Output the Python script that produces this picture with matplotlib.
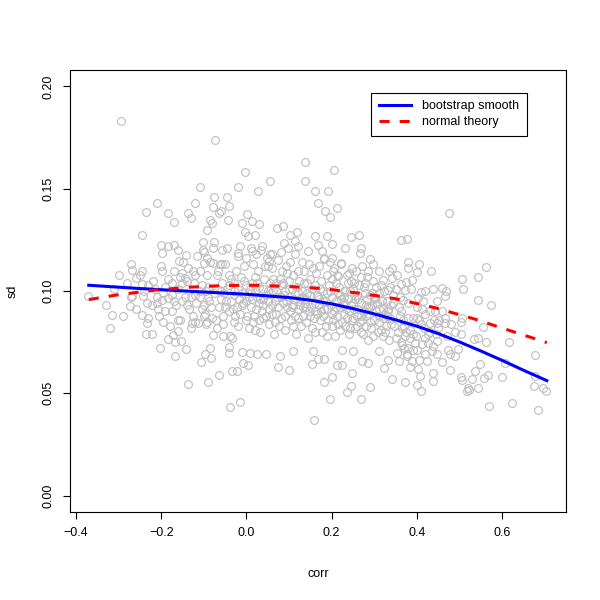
import numpy as np
import matplotlib
matplotlib.use("Agg")
import matplotlib.pyplot as plt

plt.rcParams['font.family'] = ['Liberation Sans', 'DejaVu Sans']

# scatter of (corr, sd)
outer_pts = [
    (-0.295, 0.183), (-0.073, 0.174), (-0.110, 0.151), (-0.075, 0.146), (-0.045, 0.146),
    (-0.003, 0.158), (-0.020, 0.151), (0.028, 0.149), (0.056, 0.154), (0.138, 0.163),
    (0.138, 0.154), (0.206, 0.159), (0.161, 0.149), (0.192, 0.149), (0.461, 0.194),
    (0.476, 0.138), (0.362, 0.125), (0.376, 0.1255), (0.380, 0.114), (0.404, 0.113),
    (0.379, 0.111), (0.400, 0.1095), (0.433, 0.110), (0.562, 0.1115), (0.544, 0.107),
    (0.506, 0.106), (0.509, 0.101), (0.354, 0.108), (0.389, 0.1056), (0.363, 0.1035),
    (0.375, 0.1045), (0.386, 0.101), (0.372, 0.1005), (0.410, 0.0996), (0.419, 0.1002),
    (0.438, 0.101), (0.458, 0.1014), (0.468, 0.0998), (0.466, 0.0976), (0.368, 0.0955),
    (0.402, 0.0967), (0.415, 0.095), (0.447, 0.095), (0.544, 0.0955), (0.573, 0.0933),
    (0.412, 0.091), (0.443, 0.090), (0.363, 0.090), (0.379, 0.087), (0.400, 0.087),
    (0.466, 0.087), (0.505, 0.087),
]

right_pts = [
    (0.365, 0.082), (0.372, 0.078), (0.384, 0.077), (0.396, 0.0747), (0.365, 0.0738),
    (0.380, 0.072), (0.400, 0.0714), (0.353, 0.0698), (0.376, 0.069), (0.404, 0.0665),
    (0.357, 0.066), (0.384, 0.063), (0.427, 0.0747), (0.447, 0.0755), (0.435, 0.0706),
    (0.447, 0.069), (0.423, 0.066), (0.458, 0.0652), (0.474, 0.0714), (0.478, 0.069),
    (0.490, 0.068), (0.497, 0.0717), (0.478, 0.0613), (0.439, 0.060), (0.408, 0.0587),
    (0.372, 0.0554), (0.400, 0.0543), (0.410, 0.051), (0.437, 0.056), (0.503, 0.058),
    (0.507, 0.0567), (0.529, 0.057), (0.537, 0.0608), (0.548, 0.0645), (0.519, 0.0527),
    (0.517, 0.051), (0.523, 0.0515), (0.544, 0.0527), (0.558, 0.0575), (0.568, 0.059),
    (0.599, 0.0578), (0.570, 0.044), (0.624, 0.0453), (0.684, 0.042), (0.674, 0.0535),
    (0.697, 0.0527), (0.703, 0.051), (0.677, 0.0685), (0.617, 0.075), (0.562, 0.075),
    (0.544, 0.077), (0.535, 0.0766), (0.504, 0.079), (0.466, 0.0845), (0.447, 0.0845),
    (0.432, 0.0845), (0.556, 0.0825), (0.504, 0.085), (0.607, 0.065), (0.677, 0.0583),
    (0.36, 0.088), (0.37, 0.083), (0.38, 0.094), (0.39, 0.079), (0.40, 0.092),
    (0.41, 0.084), (0.42, 0.089), (0.43, 0.080), (0.44, 0.086), (0.45, 0.082),
    (0.46, 0.090), (0.47, 0.078), (0.48, 0.084), (0.49, 0.080), (0.35, 0.077),
    (0.36, 0.097), (0.39, 0.087), (0.42, 0.077), (0.35, 0.101), (0.37, 0.072),
    (0.355, 0.080), (0.362, 0.075), (0.368, 0.086), (0.378, 0.068), (0.385, 0.081),
    (0.392, 0.071), (0.398, 0.078), (0.405, 0.086), (0.412, 0.074), (0.418, 0.069),
    (0.425, 0.079), (0.432, 0.090), (0.438, 0.073), (0.445, 0.079), (0.452, 0.086),
    (0.358, 0.092), (0.374, 0.080), (0.388, 0.066), (0.402, 0.062), (0.416, 0.082),
]

upper_pts = [
    (0.167, 0.143), (0.184, 0.139), (0.196, 0.136), (0.212, 0.1407), (0.001, 0.1374),
    (-0.011, 0.1333), (0.012, 0.134), (0.030, 0.1325), (-0.003, 0.129), (0.004, 0.127),
    (0.020, 0.1276), (0.071, 0.131), (0.087, 0.1317), (0.102, 0.1276), (0.118, 0.129),
    (0.113, 0.1245), (0.122, 0.122), (0.161, 0.127), (0.188, 0.127), (0.202, 0.123),
    (0.231, 0.121), (0.246, 0.1265), (0.264, 0.1276), (0.269, 0.121), (0.267, 0.1187),
    (0.178, 0.1195), (0.167, 0.1227), (0.145, 0.1195), (0.089, 0.1236), (0.059, 0.118),
    (0.052, 0.1146), (0.036, 0.122), (-0.015, 0.122), (-0.019, 0.1187), (0.012, 0.1197),
    (0.222, 0.1138), (0.247, 0.111), (0.271, 0.112), (0.290, 0.1154), (0.310, 0.1097),
    (0.335, 0.110), (0.341, 0.111), (0.286, 0.1097), (0.298, 0.113), (0.200, 0.1162),
    (0.181, 0.1154), (0.204, 0.1097), (0.216, 0.1073), (0.321, 0.1056), (0.341, 0.1064),
    (0.333, 0.1007), (0.345, 0.094), (0.318, 0.0958), (0.294, 0.099), (0.278, 0.104),
    (0.239, 0.104), (0.333, 0.090),
]

left_pts = [
    (-0.211, 0.1428), (-0.236, 0.1387), (-0.121, 0.1428), (-0.078, 0.1412), (-0.060, 0.139),
    (-0.064, 0.1382), (-0.041, 0.1415), (-0.183, 0.1379), (-0.169, 0.1338), (-0.136, 0.1379),
    (-0.131, 0.1355), (-0.085, 0.1346), (-0.080, 0.133), (-0.093, 0.130), (-0.044, 0.1346),
    (-0.246, 0.1276), (-0.200, 0.1227), (-0.197, 0.1187), (-0.183, 0.122), (-0.169, 0.1227),
    (-0.160, 0.120), (-0.142, 0.1174), (-0.101, 0.1239), (-0.103, 0.120), (-0.075, 0.1239),
    (-0.058, 0.120), (-0.093, 0.1162), (-0.099, 0.1138), (-0.078, 0.1138), (-0.058, 0.113),
    (-0.158, 0.1146), (-0.271, 0.113), (-0.268, 0.1105), (-0.246, 0.110), (-0.199, 0.1097),
    (-0.258, 0.1064), (-0.246, 0.1032), (-0.175, 0.1037), (-0.144, 0.1064), (-0.125, 0.1097),
    (-0.152, 0.1086), (-0.371, 0.0975), (-0.269, 0.0975), (-0.242, 0.0975), (-0.199, 0.0958),
    (-0.183, 0.0967), (-0.234, 0.0942), (-0.222, 0.0934), (-0.273, 0.0926), (-0.316, 0.0885),
    (-0.246, 0.0885), (-0.207, 0.091), (-0.175, 0.090),
    (-0.33, 0.093), (-0.31, 0.101), (-0.29, 0.088), (-0.28, 0.104), (-0.27, 0.097),
    (-0.26, 0.091), (-0.25, 0.108), (-0.24, 0.100), (-0.23, 0.087), (-0.22, 0.105),
    (-0.21, 0.094), (-0.20, 0.112), (-0.195, 0.099), (-0.19, 0.090), (-0.185, 0.106),
    (-0.18, 0.083), (-0.175, 0.098), (-0.17, 0.110), (-0.165, 0.093), (-0.16, 0.086),
    (-0.155, 0.107), (-0.15, 0.095), (-0.148, 0.114), (-0.30, 0.108), (-0.32, 0.082),
    (-0.235, 0.079), (-0.215, 0.101), (-0.205, 0.088),
    (-0.14, 0.093), (-0.12, 0.085), (-0.11, 0.100), (-0.10, 0.088), (-0.13, 0.097),
    (-0.15, 0.104), (-0.19, 0.102), (-0.21, 0.097), (-0.23, 0.103), (-0.17, 0.095),
    (-0.12, 0.108), (-0.105, 0.091),
]

lower_pts = [
    (-0.234, 0.0845), (-0.195, 0.0848), (-0.221, 0.079), (-0.203, 0.0722), (-0.183, 0.0766),
    (-0.172, 0.0787), (-0.161, 0.0803), (-0.168, 0.075), (-0.154, 0.0755), (-0.142, 0.0717),
    (-0.168, 0.068), (-0.107, 0.0652), (-0.097, 0.0693), (-0.085, 0.0722), (-0.083, 0.0673),
    (-0.079, 0.0784), (-0.138, 0.0546), (-0.089, 0.0556), (-0.064, 0.0588), (-0.042, 0.0698),
    (-0.041, 0.0725), (-0.034, 0.0608), (-0.038, 0.0434), (-0.054, 0.078), (-0.033, 0.0771),
    (-0.128, 0.0845), (-0.114, 0.0845), (-0.093, 0.0848),
    (-0.015, 0.0458), (0.159, 0.0368), (0.183, 0.0556), (0.200, 0.0579), (0.195, 0.0474),
    (0.236, 0.0507), (0.245, 0.0535), (0.269, 0.0474), (0.289, 0.0532), (0.248, 0.060),
    (0.342, 0.0572), (0.073, 0.0628), (0.099, 0.0616), (0.153, 0.0644), (-0.023, 0.0608),
    (0.004, 0.064), (-0.007, 0.0649), (0.224, 0.0637), (0.212, 0.064), (0.272, 0.0657),
    (0.285, 0.0649), (0.324, 0.0624), (-0.011, 0.0703), (0.009, 0.0698), (0.024, 0.069),
    (0.045, 0.069), (0.079, 0.068), (0.110, 0.0706), (0.157, 0.0706), (0.181, 0.0668),
    (0.167, 0.0668), (0.224, 0.0714), (0.251, 0.0706), (0.310, 0.0706), (0.333, 0.0665),
]

core_pts = [
    (-0.14, 0.105), (-0.12, 0.098), (-0.11, 0.110), (-0.10, 0.093), (-0.09, 0.102),
    (-0.08, 0.087), (-0.07, 0.108), (-0.06, 0.096), (-0.05, 0.113), (-0.04, 0.090),
    (-0.03, 0.104), (-0.02, 0.083), (-0.01, 0.099), (0.00, 0.116), (0.01, 0.092),
    (0.02, 0.107), (0.03, 0.086), (0.04, 0.101), (0.05, 0.095), (0.06, 0.111),
    (0.07, 0.089), (0.08, 0.103), (0.09, 0.081), (0.10, 0.097), (0.11, 0.108),
    (0.12, 0.091), (0.13, 0.100), (0.14, 0.085), (0.15, 0.106), (0.16, 0.094),
    (0.17, 0.112), (0.18, 0.088), (0.19, 0.099), (0.20, 0.083), (0.21, 0.104),
    (0.22, 0.092), (0.23, 0.097), (0.24, 0.079), (0.25, 0.101), (0.26, 0.088),
    (0.27, 0.094), (0.28, 0.083), (0.29, 0.098), (0.30, 0.086), (0.31, 0.091),
    (0.32, 0.078), (0.33, 0.095), (0.34, 0.084),
    (-0.135, 0.091), (-0.115, 0.117), (-0.095, 0.084), (-0.075, 0.099), (-0.055, 0.088),
    (-0.045, 0.121), (-0.035, 0.095), (-0.025, 0.110), (-0.015, 0.089), (-0.005, 0.105),
    (0.005, 0.082), (0.015, 0.113), (0.025, 0.097), (0.035, 0.120), (0.045, 0.088),
    (0.055, 0.104), (0.065, 0.079), (0.075, 0.115), (0.085, 0.094), (0.095, 0.109),
    (0.105, 0.086), (0.115, 0.118), (0.125, 0.096), (0.135, 0.110), (0.145, 0.077),
    (0.155, 0.101), (0.165, 0.089), (0.175, 0.105), (0.185, 0.095), (0.195, 0.114),
    (0.205, 0.090), (0.215, 0.099), (0.225, 0.085), (0.235, 0.108), (0.245, 0.093),
    (0.255, 0.082), (0.265, 0.103), (0.275, 0.090), (0.285, 0.076), (0.295, 0.093),
    (0.305, 0.102), (0.315, 0.081), (0.325, 0.089), (0.335, 0.076), (0.345, 0.098),
    (-0.13, 0.082), (-0.105, 0.103), (-0.085, 0.114), (-0.065, 0.092), (-0.045, 0.101),
    (-0.03, 0.085), (-0.02, 0.117), (-0.008, 0.094), (0.008, 0.101), (0.018, 0.088),
    (0.028, 0.110), (0.038, 0.093), (0.048, 0.116), (0.058, 0.099), (0.068, 0.085),
    (0.078, 0.106), (0.088, 0.098), (0.098, 0.121), (0.108, 0.092), (0.118, 0.102),
    (0.128, 0.083), (0.138, 0.094), (0.148, 0.113), (0.158, 0.087), (0.168, 0.097),
    (0.178, 0.080), (0.188, 0.108), (0.198, 0.093), (0.208, 0.078), (0.218, 0.102),
    (0.228, 0.089), (0.238, 0.096), (0.248, 0.086), (0.258, 0.110), (0.268, 0.080),
    (0.278, 0.099), (0.288, 0.089), (0.298, 0.105), (0.308, 0.080), (0.318, 0.095),
    (0.328, 0.083), (0.338, 0.102),
    (-0.145, 0.097), (-0.125, 0.088), (-0.10, 0.119), (-0.088, 0.095), (-0.068, 0.082),
    (-0.058, 0.104), (-0.038, 0.078), (-0.028, 0.100), (-0.012, 0.107), (0.002, 0.088),
    (0.012, 0.096), (0.022, 0.118), (0.032, 0.080), (0.042, 0.106), (0.052, 0.091),
    (0.062, 0.100), (0.072, 0.097), (0.082, 0.087), (0.092, 0.112), (0.102, 0.090),
    (0.112, 0.096), (0.122, 0.110), (0.132, 0.088), (0.142, 0.104), (0.152, 0.092),
    (0.162, 0.080), (0.172, 0.101), (0.182, 0.116), (0.192, 0.086), (0.202, 0.097),
    (0.212, 0.088), (0.222, 0.113), (0.232, 0.083), (0.242, 0.100), (0.252, 0.091),
    (0.262, 0.096), (0.272, 0.086), (0.282, 0.107), (0.292, 0.082), (0.302, 0.097),
    (0.312, 0.088), (0.332, 0.091),
    (-0.155, 0.086), (-0.118, 0.094), (-0.098, 0.089), (-0.078, 0.121), (-0.062, 0.113),
    (-0.048, 0.095), (-0.032, 0.091), (-0.018, 0.096), (0.0, 0.103), (0.01, 0.121),
    (0.02, 0.081), (0.03, 0.102), (0.04, 0.087), (0.05, 0.112), (0.06, 0.093),
    (0.07, 0.100), (0.08, 0.119), (0.09, 0.088), (0.10, 0.105), (0.11, 0.083),
    (0.12, 0.099), (0.13, 0.114), (0.14, 0.096), (0.15, 0.088), (0.16, 0.103),
    (0.17, 0.093), (0.18, 0.100), (0.19, 0.078), (0.20, 0.106), (0.21, 0.095),
    (0.22, 0.081), (0.23, 0.100), (0.24, 0.109), (0.25, 0.087), (0.26, 0.098),
    (0.27, 0.107), (0.28, 0.093), (0.29, 0.085), (0.31, 0.099), (0.32, 0.087),
    (0.34, 0.093),
    (-0.16, 0.101), (-0.138, 0.111), (-0.122, 0.104), (-0.108, 0.097), (-0.092, 0.108),
    (-0.072, 0.086), (-0.052, 0.099), (-0.042, 0.108), (-0.022, 0.092), (-0.002, 0.086),
    (0.013, 0.104), (0.023, 0.091), (0.033, 0.096), (0.043, 0.112), (0.053, 0.084),
    (0.063, 0.106), (0.073, 0.092), (0.083, 0.110), (0.093, 0.095), (0.103, 0.114),
    (0.113, 0.088), (0.123, 0.105), (0.133, 0.092), (0.143, 0.099), (0.153, 0.082),
    (0.163, 0.109), (0.173, 0.086), (0.183, 0.091), (0.193, 0.103), (0.203, 0.086),
    (0.213, 0.108), (0.223, 0.096), (0.233, 0.091), (0.243, 0.082), (0.253, 0.104),
    (0.263, 0.091), (0.273, 0.079), (0.283, 0.096), (0.303, 0.090), (0.323, 0.100),
    (-0.095, 0.100), (-0.082, 0.092), (-0.066, 0.110), (-0.054, 0.084), (-0.036, 0.106),
    (-0.026, 0.088), (-0.006, 0.112), (0.006, 0.097), (0.016, 0.085), (0.026, 0.104),
    (0.036, 0.090), (0.046, 0.098), (0.056, 0.118), (0.066, 0.095), (0.076, 0.083),
    (0.086, 0.104), (0.096, 0.092), (0.106, 0.101), (0.116, 0.079), (0.126, 0.093),
    (0.136, 0.104), (0.146, 0.090), (0.156, 0.111), (0.166, 0.098), (0.176, 0.090),
    (0.186, 0.083), (0.196, 0.100), (0.206, 0.111), (0.216, 0.084), (0.226, 0.093),
    (0.236, 0.087), (0.246, 0.105), (0.256, 0.096), (0.266, 0.085), (0.276, 0.102),
    (0.286, 0.092), (0.296, 0.078), (0.306, 0.094), (0.316, 0.103), (0.326, 0.080),
    (0.336, 0.087), (0.346, 0.083),
    (-0.09, 0.097), (-0.07, 0.101), (-0.05, 0.092), (-0.03, 0.098), (-0.01, 0.093),
    (0.01, 0.099), (0.03, 0.094), (0.05, 0.100), (0.07, 0.104), (0.09, 0.100),
    (0.11, 0.093), (0.13, 0.097), (0.15, 0.098), (0.17, 0.096), (0.19, 0.091),
    (0.21, 0.092), (0.23, 0.094), (0.25, 0.094), (0.27, 0.088), (0.29, 0.092),
    (0.31, 0.085), (0.33, 0.088),
    (-0.06, 0.100), (-0.04, 0.103), (-0.02, 0.101), (0.0, 0.095), (0.02, 0.100),
    (0.04, 0.096), (0.06, 0.089), (0.08, 0.097), (0.10, 0.101), (0.12, 0.087),
    (0.14, 0.092), (0.16, 0.090), (0.18, 0.095), (0.20, 0.089), (0.22, 0.098),
    (0.24, 0.090), (0.26, 0.083), (0.28, 0.088), (0.30, 0.096), (0.32, 0.091),
]

# smooth curves
boot_x = [-0.37, -0.25, -0.1, 0.0, 0.1, 0.15, 0.2, 0.25, 0.3, 0.35, 0.40, 0.45, 0.50,
          0.55, 0.60, 0.65, 0.705]
boot_y = [0.1028, 0.1012, 0.0995, 0.0984, 0.0968, 0.0955, 0.0937, 0.0914, 0.0888, 0.0859,
          0.0828, 0.0792, 0.0751, 0.0707, 0.0661, 0.0613, 0.0562]
norm_x = [-0.37, -0.3, -0.215, -0.13, -0.05, 0.02, 0.09, 0.184, 0.286, 0.35, 0.443, 0.537,
          0.61, 0.705]
norm_y = [0.0958, 0.0982, 0.1004, 0.1019, 0.1027, 0.1028, 0.1023, 0.1011, 0.0983, 0.0962,
          0.0918, 0.0862, 0.0812, 0.0748]

all_pts = outer_pts + right_pts + upper_pts + left_pts + lower_pts + core_pts
corr, sd = np.array(all_pts).T

fig = plt.figure(figsize=(6, 6), dpi=100)
ax = fig.add_axes([70 / 600, 88 / 600, 496 / 600, 442 / 600])

ax.plot(corr, sd, 'o', ms=5.6, mfc='none', mec='#BEBEBE', mew=0.8, zorder=1)
ax.plot(boot_x, boot_y, color='blue', lw=2.2, label='bootstrap smooth', zorder=3)
ax.plot(norm_x, norm_y, color='red', lw=2.2, dashes=(3.3, 3.3), label='normal theory', zorder=3)

ax.set_xlim(-0.414, 0.750)
ax.set_ylim(-0.008, 0.208)
ax.set_xticks([-0.4, -0.2, 0.0, 0.2, 0.4, 0.6])
ax.set_xticklabels(['\u22120.4', '\u22120.2', '0.0', '0.2', '0.4', '0.6'])
ax.set_yticks([0.0, 0.05, 0.10, 0.15, 0.20])
ax.set_yticklabels(['0.00', '0.05', '0.10', '0.15', '0.20'], rotation=90, va='center')
ax.tick_params(direction='out', length=5, width=0.8, labelsize=9, pad=6)
for s in ax.spines.values():
    s.set_linewidth(0.8)

ax.set_xlabel('corr', fontsize=9, labelpad=21)
ax.set_ylabel('sd', fontsize=9, labelpad=17)

leg = ax.legend(loc='upper left', bbox_to_anchor=(0.607, 0.948), fontsize=9,
                fancybox=False, edgecolor='black', framealpha=1, borderaxespad=0,
                handlelength=2.6, handletextpad=0.9, borderpad=0.6, labelspacing=0.3)
leg.get_frame().set_linewidth(0.8)

fig.savefig('out.png', dpi=100)
